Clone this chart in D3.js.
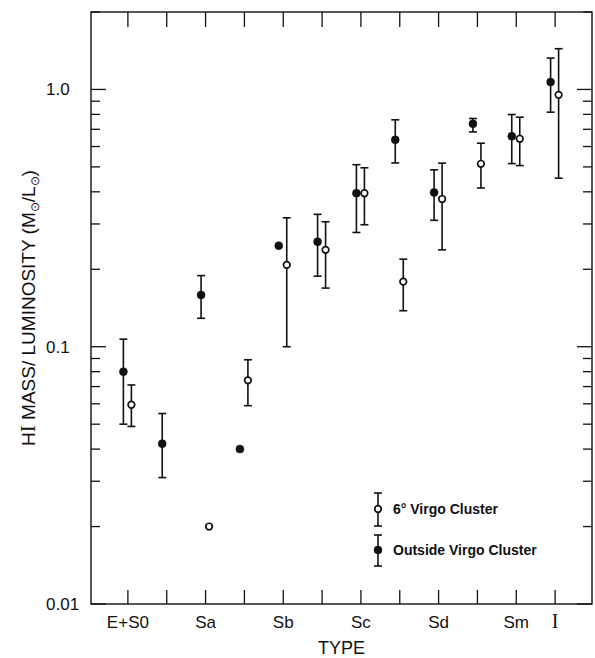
<!DOCTYPE html>
<html>
<head>
<meta charset="utf-8">
<script src="https://cdn.jsdelivr.net/npm/d3@7"></script>
<style>
  body { margin: 0; background: #fff; }
  svg { display: block; font-family: "Liberation Sans", Arial, sans-serif; }
</style>
</head>
<body>
<svg id="chart"></svg>
<script>
// morphological types, one tick each; only some are labelled
const types = ["E+S0", "S0a", "Sa", "Sab", "Sb", "Sbc", "Sc", "Scd", "Sd", "Sdm", "Sm", "I"];
const typeLabels = ["E+S0", "Sa", "Sb", "Sc", "Sd", "Sm", "I"];

// outside Virgo cluster (filled): type, value, low, high (null = no bar)
const outside = [
    ["E+S0", 0.080, 0.050, 0.107],
    ["S0a", 0.042, 0.031, 0.055],
    ["Sa", 0.159, 0.129, 0.189],
    ["Sab", 0.040, null, null],
    ["Sb", 0.247, null, null],
    ["Sbc", 0.256, 0.188, 0.327],
    ["Sc", 0.395, 0.278, 0.510],
    ["Scd", 0.637, 0.518, 0.762],
    ["Sd", 0.398, 0.310, 0.487],
    ["Sdm", 0.735, 0.684, 0.771],
    ["Sm", 0.658, 0.515, 0.799],
    ["I", 1.068, 0.816, 1.324]
];

// within 6 deg of Virgo (open)
const virgo = [
    ["E+S0", 0.0595, 0.049, 0.071],
    ["Sa", 0.020, null, null],
    ["Sab", 0.074, 0.059, 0.089],
    ["Sb", 0.208, 0.100, 0.317],
    ["Sbc", 0.238, 0.169, 0.306],
    ["Sc", 0.395, 0.298, 0.496],
    ["Scd", 0.179, 0.138, 0.219],
    ["Sd", 0.375, 0.238, 0.517],
    ["Sdm", 0.514, 0.414, 0.618],
    ["Sm", 0.643, 0.506, 0.780],
    ["I", 0.953, 0.452, 1.440]
];

const yMajor = [0.01, 0.1, 1];
const yMajorLabels = ["0.01", "0.1", "1.0"];

(function () {
    const W = 595, H = 658;
    const m = { left: 91, right: 592, top: 12, bottom: 604 };

    const svg = d3.select("#chart").attr("width", W).attr("height", H);

    const x = d3.scalePoint().domain(types).range([m.left, m.right]).padding(0.95);
    const y = d3.scaleLog().domain([0.01, 2]).range([m.bottom, m.top]);

    // minor ticks 2..9 in each decade
    const yMinor = [];
    [0.01, 0.1, 1].forEach(d => {
        for (let k = 2; k <= 9; k++) if (d * k <= 2) yMinor.push(d * k);
    });

    const ink = "#111";

    // frame
    svg.append("rect")
        .attr("x", m.left).attr("y", m.top)
        .attr("width", m.right - m.left).attr("height", m.bottom - m.top)
        .attr("fill", "none").attr("stroke", ink).attr("stroke-width", 1.4);

    // x ticks, bottom and top, pointing inward
    svg.append("g").selectAll("line")
        .data(types).enter().append("line")
        .attr("x1", d => x(d)).attr("x2", d => x(d))
        .attr("y1", m.bottom).attr("y2", m.bottom - 14)
        .attr("stroke", ink).attr("stroke-width", 1.3);
    svg.append("g").selectAll("line")
        .data(types).enter().append("line")
        .attr("x1", d => x(d)).attr("x2", d => x(d))
        .attr("y1", m.top).attr("y2", m.top + 15)
        .attr("stroke", ink).attr("stroke-width", 1.3);

    // y ticks, left and right, pointing inward
    [[m.left, 1], [m.right, -1]].forEach(([x0, dir]) => {
        svg.append("g").selectAll("line")
            .data(yMajor).enter().append("line")
            .attr("x1", x0).attr("x2", x0 + dir * 15)
            .attr("y1", d => y(d)).attr("y2", d => y(d))
            .attr("stroke", ink).attr("stroke-width", 1.3);
        svg.append("g").selectAll("line")
            .data(yMinor).enter().append("line")
            .attr("x1", x0).attr("x2", x0 + dir * 9)
            .attr("y1", d => y(d)).attr("y2", d => y(d))
            .attr("stroke", ink).attr("stroke-width", 1.3);
    });

    // y tick labels
    svg.append("g").selectAll("text")
        .data(yMajor).enter().append("text")
        .attr("x", 46).attr("y", d => y(d) + 6)
        .attr("font-size", 17).attr("fill", ink)
        .text((d, i) => yMajorLabels[i]);

    // x tick labels
    svg.append("g").selectAll("text")
        .data(typeLabels).enter().append("text")
        .attr("x", d => x(d)).attr("y", 628)
        .attr("text-anchor", "middle")
        .attr("font-size", d => d === "I" ? 20 : 17)
        .attr("font-family", d => d === "I" ? "Liberation Serif, serif" : null)
        .attr("fill", ink)
        .text(d => d);

    // axis titles
    svg.append("text")
        .attr("x", (m.left + m.right) / 2).attr("y", 654)
        .attr("text-anchor", "middle").attr("font-size", 18).attr("fill", ink)
        .text("TYPE");

    const yt = svg.append("text")
        .attr("transform", `translate(35,${(m.top + m.bottom) / 2}) rotate(-90)`)
        .attr("text-anchor", "middle").attr("font-size", 19).attr("fill", ink);
    yt.append("tspan").text("H");
    yt.append("tspan").attr("font-family", "Liberation Serif, serif").attr("font-size", 21).text("I");
    yt.append("tspan").text(" MASS/ LUMINOSITY  (M");
    yt.append("tspan").attr("font-size", 12).attr("dy", 4).text("⊙");
    yt.append("tspan").attr("dy", -4).text("/L");
    yt.append("tspan").attr("font-size", 12).attr("dy", 4).text("⊙");
    yt.append("tspan").attr("dy", -4).text(")");

    // error bar + marker drawing
    function drawSeries(data, dx, filled) {
        const g = svg.append("g");
        const bars = data.filter(d => d[2] !== null);
        const px = d => x(d[0]) + dx;
        g.selectAll("line.v").data(bars).enter().append("line")
            .attr("class", "v")
            .attr("x1", px).attr("x2", px)
            .attr("y1", d => y(d[2])).attr("y2", d => y(d[3]))
            .attr("stroke", ink).attr("stroke-width", 1.6);
        [2, 3].forEach(k => {
            g.selectAll("line.c" + k).data(bars).enter().append("line")
                .attr("class", "c" + k)
                .attr("x1", d => px(d) - 4).attr("x2", d => px(d) + 4)
                .attr("y1", d => y(d[k])).attr("y2", d => y(d[k]))
                .attr("stroke", ink).attr("stroke-width", 1.6);
        });
        g.selectAll("circle").data(data).enter().append("circle")
            .attr("cx", px).attr("cy", d => y(d[1]))
            .attr("r", filled ? 4 : 3.3)
            .attr("fill", filled ? ink : "#fff")
            .attr("stroke", ink).attr("stroke-width", filled ? 0.5 : 1.7);
    }
    drawSeries(outside, -4.5, true);
    drawSeries(virgo, 3.5, false);

    // legend
    const legend = [
        { label: "6° Virgo Cluster", filled: false, cy: 509, lo: 493, hi: 526 },
        { label: "Outside Virgo Cluster", filled: true, cy: 550, lo: 535, hi: 566 }
    ];
    const lg = svg.append("g");
    legend.forEach(d => {
        lg.append("line").attr("x1", 378).attr("x2", 378).attr("y1", d.lo).attr("y2", d.hi)
            .attr("stroke", ink).attr("stroke-width", 1.6);
        [d.lo, d.hi].forEach(v => lg.append("line")
            .attr("x1", 374).attr("x2", 382).attr("y1", v).attr("y2", v)
            .attr("stroke", ink).attr("stroke-width", 1.6));
        lg.append("circle").attr("cx", 378).attr("cy", d.cy).attr("r", d.filled ? 4 : 3.3)
            .attr("fill", d.filled ? ink : "#fff").attr("stroke", ink)
            .attr("stroke-width", d.filled ? 0.5 : 1.7);
        lg.append("text").attr("x", 393).attr("y", d.cy + 5)
            .attr("font-size", 14).attr("font-weight", "bold").attr("fill", ink)
            .text(d.label);
    });
})();
</script>
</body>
</html>
